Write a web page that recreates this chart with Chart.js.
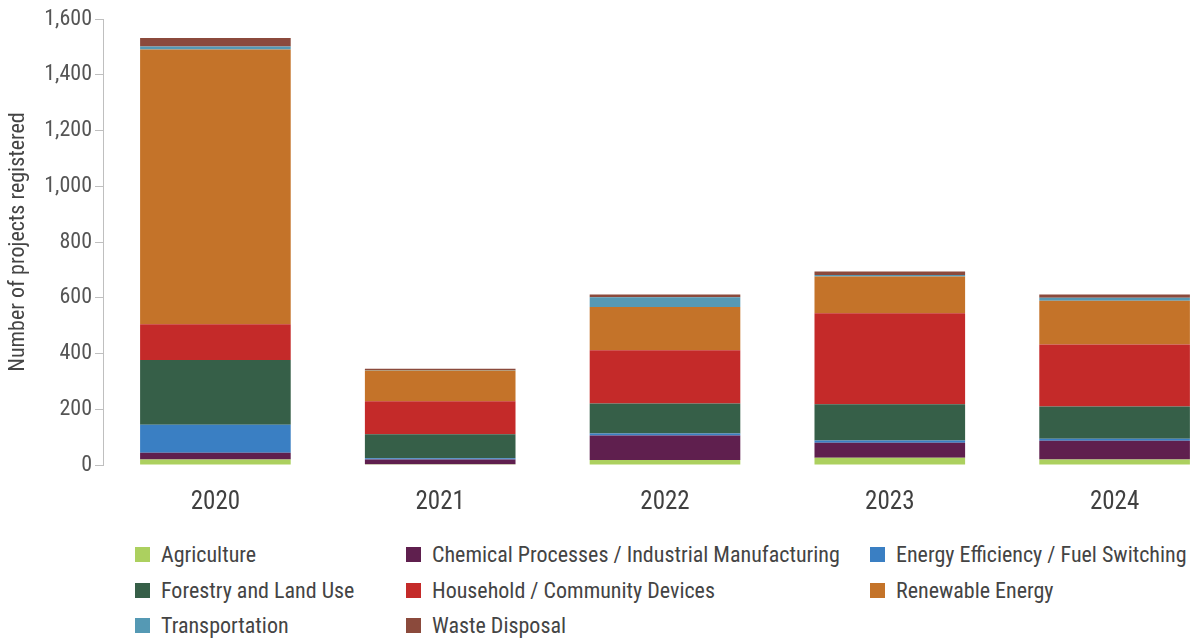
<!DOCTYPE html>
<html>
<head>
<meta charset="utf-8">
<script src="https://cdn.jsdelivr.net/npm/chart.js@4"></script>
<style>
  html, body { margin: 0; padding: 0; background: #fff; }
  body { width: 1201px; height: 641px; overflow: hidden; position: relative;
         font-family: "Roboto Condensed", Roboto, sans-serif; }
  #wrap { position: absolute; left: 0; top: 0; width: 1227px; height: 525px; }
  #legend { position: absolute; left: 135px; top: 537px;
            display: grid; grid-template-columns: 271px 464px auto; grid-auto-rows: 35.5px; }
  .item { display: flex; align-items: center; font-size: 22px; color: #444; white-space: nowrap; }
  .box { width: 15px; height: 15px; margin-right: 11px; flex: none; }
</style>
</head>
<body>
<div id="wrap"><canvas id="chart"></canvas></div>
<div id="legend"></div>
<script>
const years = ['2020', '2021', '2022', '2023', '2024'];

const agriculture = [20, 3, 18, 26, 20];
const chemical = [24, 17, 88, 54, 67];
const energyEfficiency = [100, 4, 7, 8, 7];
const forestry = [233, 86, 108, 130, 116];
const household = [128, 119, 191, 326, 222];
const renewable = [986, 110, 155, 132, 157];
const transport = [10, 2, 35, 6, 11];
const waste = [31, 4, 10, 12, 12];

const yTicks = [0, 200, 400, 600, 800, 1000, 1200, 1400, 1600];

const series = [
  { label: 'Agriculture', data: agriculture, color: '#acd05f' },
  { label: 'Chemical Processes / Industrial Manufacturing', data: chemical, color: '#5f1f4e' },
  { label: 'Energy Efficiency / Fuel Switching', data: energyEfficiency, color: '#3a7fc3' },
  { label: 'Forestry and Land Use', data: forestry, color: '#365f48' },
  { label: 'Household / Community Devices', data: household, color: '#c42a29' },
  { label: 'Renewable Energy', data: renewable, color: '#c47329' },
  { label: 'Transportation', data: transport, color: '#5599b4' },
  { label: 'Waste Disposal', data: waste, color: '#8b4a3c' }
];

const font = '"Roboto Condensed", Roboto, sans-serif';

new Chart(document.getElementById('chart'), {
  type: 'bar',
  data: {
    labels: years,
    datasets: series.map(s => ({
      label: s.label,
      data: s.data,
      backgroundColor: s.color,
      borderWidth: 0,
      categoryPercentage: 1,
      barPercentage: 0.67
    }))
  },
  options: {
    responsive: true,
    maintainAspectRatio: false,
    animation: false,
    layout: { padding: { top: 19, left: 0, right: 0, bottom: 0 } },
    plugins: {
      legend: { display: false },
      tooltip: { enabled: false }
    },
    scales: {
      x: {
        stacked: true,
        grid: { display: false },
        border: { display: false },
        ticks: { color: '#404040', font: { family: font, size: 25 }, padding: 15 },
        afterFit: scale => { scale.height = 60; }
      },
      y: {
        stacked: true,
        min: yTicks[0],
        max: yTicks[yTicks.length - 1],
        afterBuildTicks: scale => { scale.ticks = yTicks.map(v => ({ value: v })); },
        grid: { drawOnChartArea: false, drawTicks: true, tickLength: 8, color: '#bfbfbf' },
        border: { display: true, color: '#bfbfbf' },
        ticks: {
          color: '#555',
          font: { family: font, size: 22 },
          padding: 3,
          callback: v => v.toLocaleString('en-US')
        },
        title: {
          display: true,
          text: 'Number of projects registered',
          color: '#444',
          font: { family: font, size: 22 },
          padding: { top: 5, bottom: 0 }
        },
        afterFit: scale => { scale.width = 103; }
      }
    }
  }
});

const legend = document.getElementById('legend');
series.forEach(s => {
  const item = document.createElement('div');
  item.className = 'item';
  const box = document.createElement('span');
  box.className = 'box';
  box.style.background = s.color;
  item.appendChild(box);
  item.appendChild(document.createTextNode(s.label));
  legend.appendChild(item);
});
</script>
</body>
</html>
